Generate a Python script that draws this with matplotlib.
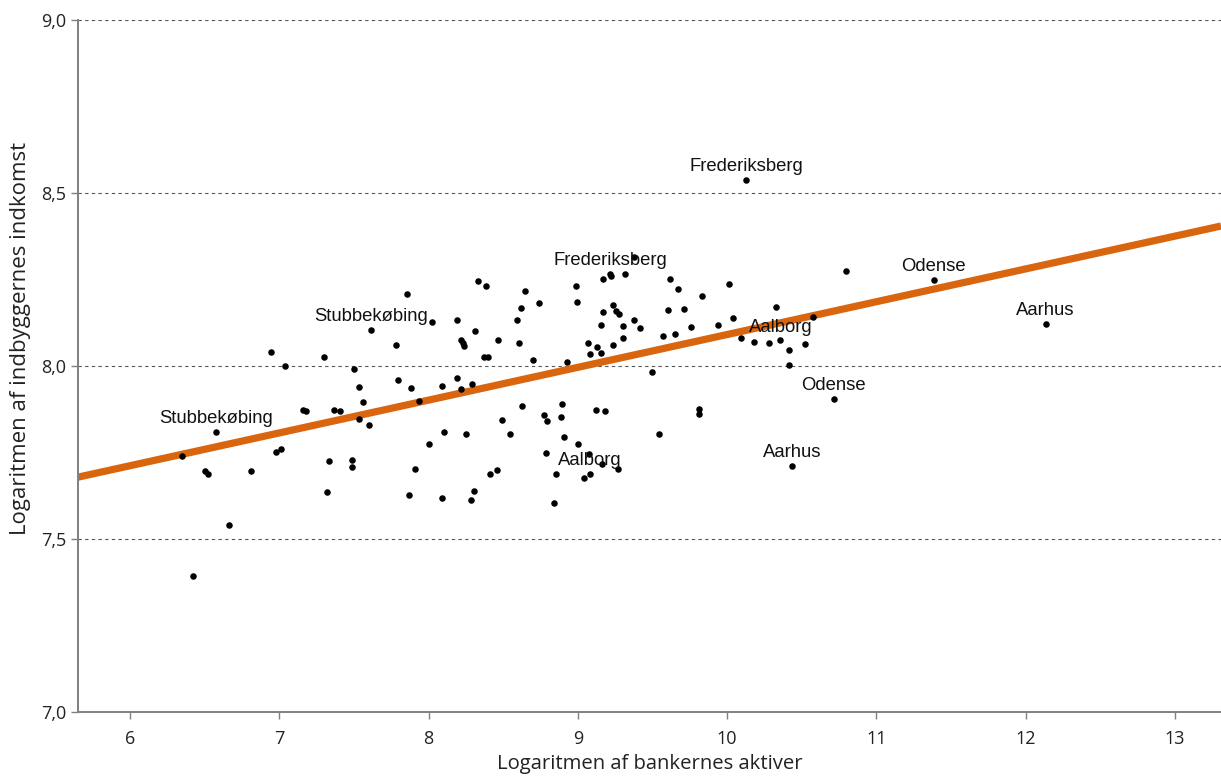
import matplotlib
matplotlib.use("Agg")
import matplotlib.pyplot as plt

# log of bank assets (x) and log of residents' income (y), one point per municipality
bank_assets = [
    6.346, 6.502, 6.524, 6.576, 6.663, 6.420, 6.808, 6.944, 7.040, 7.161,
    7.177, 6.976, 7.011, 7.297, 7.318, 7.333, 7.366, 7.409, 7.500, 7.534,
    7.561, 7.536, 7.601, 7.489, 7.487, 7.614, 7.782, 7.857, 7.795, 7.880,
    7.934, 8.001, 7.907, 7.867, 8.023, 8.105, 8.090, 8.092, 8.188, 8.190,
    8.219, 8.232, 8.237, 8.219, 8.248, 8.286, 8.302, 8.289, 8.311, 8.329,
    8.382, 8.371, 8.396, 8.413, 8.456, 8.467, 8.494, 8.545, 8.605, 8.590,
    8.619, 8.644, 8.624, 8.697, 8.739, 8.773, 8.791, 8.784, 8.896, 8.889,
    8.909, 8.999, 8.853, 8.838, 8.929, 8.987, 8.992, 9.070, 9.083, 9.126,
    9.153, 9.155, 9.168, 9.168, 9.215, 9.220, 9.235, 9.235, 9.255, 9.273,
    9.300, 9.300, 9.317, 9.376, 9.374, 9.414, 9.119, 9.184, 9.076, 9.159,
    9.267, 9.043, 9.083, 9.494, 9.545, 9.572, 9.603, 9.617, 9.652, 9.672,
    9.709, 9.760, 9.811, 9.811, 9.831, 9.941, 10.015, 10.129, 10.041, 10.090,
    10.181, 10.278, 10.356, 10.327, 10.414, 10.416, 10.521, 10.575, 10.798, 10.715,
    10.434, 11.385, 12.133,
]
income = [
    7.741, 7.697, 7.688, 7.809, 7.540, 7.393, 7.696, 8.041, 7.999, 7.872,
    7.871, 7.751, 7.760, 8.025, 7.636, 7.725, 7.873, 7.871, 7.992, 7.938,
    7.895, 7.848, 7.829, 7.727, 7.709, 8.105, 8.062, 8.207, 7.959, 7.936,
    7.899, 7.775, 7.702, 7.626, 8.128, 7.809, 7.619, 7.942, 8.134, 7.965,
    8.075, 8.067, 8.059, 7.934, 7.804, 7.612, 7.640, 7.948, 8.101, 8.246,
    8.230, 8.025, 8.025, 7.687, 7.699, 8.075, 7.844, 7.803, 8.066, 8.132,
    8.167, 8.218, 7.884, 8.018, 8.181, 7.859, 7.841, 7.748, 7.890, 7.853,
    7.794, 7.775, 7.688, 7.605, 8.012, 8.230, 8.185, 8.067, 8.034, 8.055,
    8.038, 8.118, 8.157, 8.252, 8.265, 8.261, 8.176, 8.061, 8.159, 8.149,
    8.115, 8.081, 8.267, 8.316, 8.134, 8.109, 7.872, 7.869, 7.746, 7.716,
    7.703, 7.677, 7.687, 7.982, 7.804, 8.086, 8.161, 8.251, 8.092, 8.222,
    8.165, 8.113, 7.875, 7.860, 8.203, 8.118, 8.238, 8.538, 8.139, 8.082,
    8.069, 8.066, 8.074, 8.171, 8.045, 8.004, 8.063, 8.142, 8.275, 7.904,
    7.711, 8.248, 8.122,
]

# named municipalities: label text and the point it sits above
label_names = ["Stubbekøbing", "Stubbekøbing", "Frederiksberg", "Frederiksberg",
               "Aalborg", "Aalborg", "Odense", "Odense", "Aarhus", "Aarhus"]
label_x = [6.576, 7.614, 10.129, 9.215, 10.356, 9.083, 11.385, 10.715, 12.133, 10.434]
label_y = [7.809, 8.105, 8.538, 8.265, 8.074, 7.687, 8.248, 7.904, 8.122, 7.711]

# trend line
trend_intercept = 7.143
trend_slope = 0.0948

x_min, x_max = 5.652, 13.308
y_min, y_max = 7.0, 9.0

fig = plt.figure(figsize=(12.21, 7.78), dpi=100)
ax = fig.add_axes([0.0639, 0.0848, 0.9361, 0.8895])

ax.set_xlim(x_min, x_max)
ax.set_ylim(y_min, y_max)

for gy in [7.5, 8.0, 8.5, 9.0]:
    ax.axhline(gy, color="#555555", linestyle=(0, (3, 3)), linewidth=0.8, zorder=1)

ax.plot([x_min, x_max],
        [trend_intercept + trend_slope * x_min, trend_intercept + trend_slope * x_max],
        color="#d9650f", linewidth=5.2, solid_capstyle="butt", zorder=2)

ax.scatter(bank_assets, income, s=22, color="black", linewidths=0, zorder=3)

for name, lx, ly in zip(label_names, label_x, label_y):
    ax.annotate(name, (lx, ly), xytext=(0, 3.5), textcoords="offset points",
                ha="center", va="bottom", fontsize=13.3, family="Liberation Sans",
                color="#111111", zorder=4)

ax.set_xticks([6, 7, 8, 9, 10, 11, 12, 13])
ax.set_yticks([7.0, 7.5, 8.0, 8.5, 9.0])
ax.set_yticklabels(["7,0", "7,5", "8,0", "8,5", "9,0"])

for side in ["top", "right"]:
    ax.spines[side].set_visible(False)
for side in ["left", "bottom"]:
    ax.spines[side].set_color("#808080")
    ax.spines[side].set_linewidth(1.4)

ax.tick_params(axis="both", direction="out", length=5, width=1, color="#808080",
               labelsize=13, labelcolor="#222222")
ax.tick_params(axis="x", pad=8)
for lbl in ax.get_xticklabels() + ax.get_yticklabels():
    lbl.set_family("Open Sans")

ax.set_xlabel("Logaritmen af bankernes aktiver", fontsize=14.6, family="Open Sans",
              color="#222222", labelpad=4)
ax.set_ylabel("Logaritmen af indbyggernes indkomst", fontsize=16, family="Open Sans",
              color="#222222")
ax.yaxis.set_label_coords(-0.041, 0.54)

fig.savefig("out.png", dpi=100, facecolor="white")
